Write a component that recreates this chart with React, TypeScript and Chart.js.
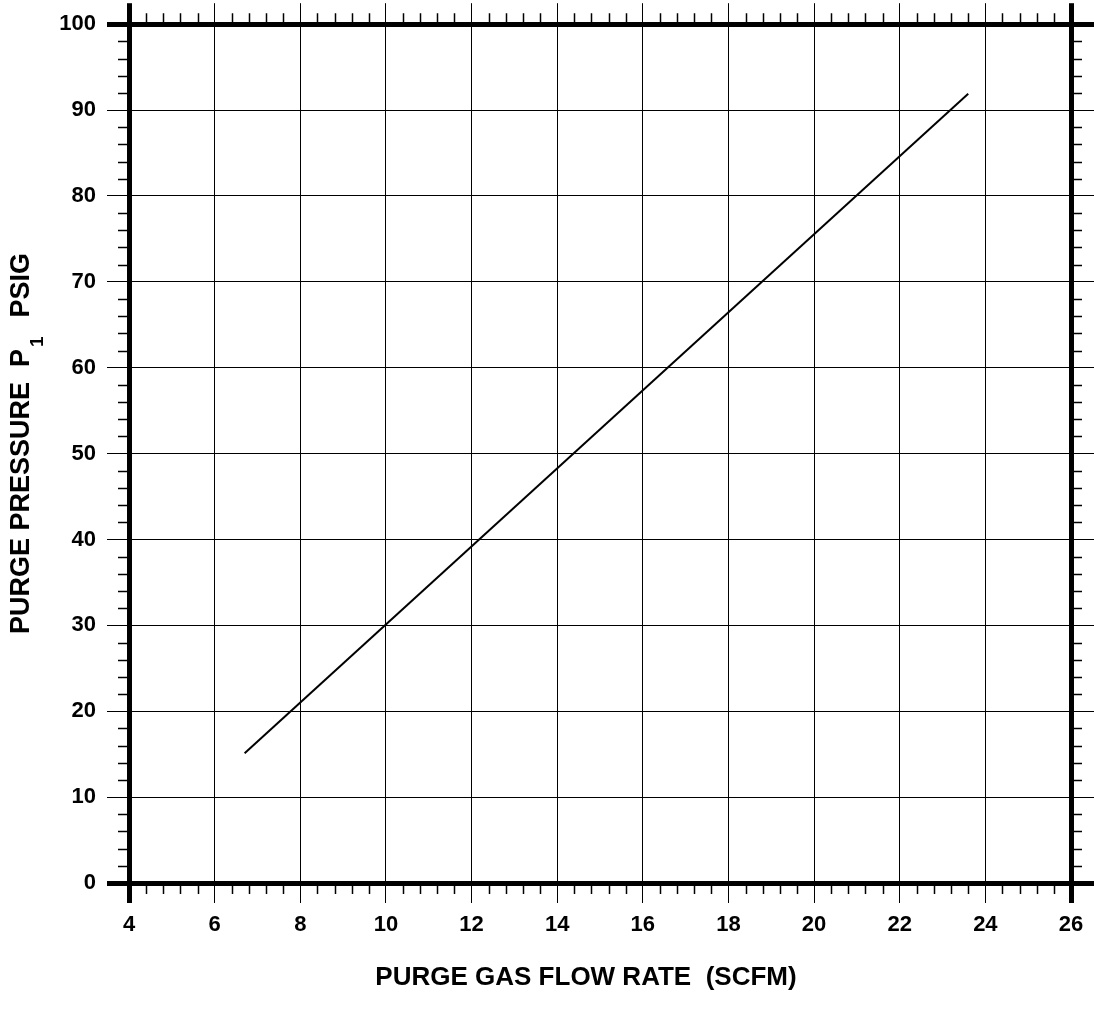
import React, { useEffect, useRef } from "react";
import { Chart, registerables } from "chart.js";

Chart.register(...registerables);

// ---- data ----
const flowRate = [6.7, 23.6]; // SCFM
const pressure = [15.1, 91.9]; // PSIG

const xMin = 4;
const xMax = 26;
const xStep = 2;
const xMinorStep = 0.4;

const yMin = 0;
const yMax = 100;
const yStep = 10;
const yMinorStep = 2;

const xTitle = "PURGE GAS FLOW RATE  (SCFM)";
const yTitleMain = "PURGE PRESSURE  P";
const yTitleSub = "1";
const yTitleEnd = "  PSIG";

const FONT = "'Liberation Sans', Arial, Helvetica, sans-serif";
const W = 1094;
const H = 1017;

const edgeWidth = (min: number, max: number) => (ctx: any) => {
  const v = ctx.tick ? ctx.tick.value : NaN;
  return v === min || v === max ? 5 : 1;
};

const framePlugin = {
  id: "frame",
  afterDatasetsDraw(chart: any) {
    const { ctx, chartArea } = chart;
    const xs = chart.scales.x;
    const ys = chart.scales.y;
    ctx.save();
    ctx.strokeStyle = "#000";
    ctx.lineWidth = 1.5;
    ctx.beginPath();
    const nx = Math.round((xMax - xMin) / xMinorStep);
    for (let i = 0; i <= nx; i++) {
      const v = xMin + i * xMinorStep;
      if (i % Math.round(xStep / xMinorStep) === 0) continue;
      const px = Math.round(xs.getPixelForValue(v)) + 0.5;
      ctx.moveTo(px, chartArea.bottom);
      ctx.lineTo(px, chartArea.bottom + 11);
      ctx.moveTo(px, chartArea.top);
      ctx.lineTo(px, chartArea.top - 11);
    }
    const ny = Math.round((yMax - yMin) / yMinorStep);
    for (let i = 0; i <= ny; i++) {
      const v = yMin + i * yMinorStep;
      if (i % Math.round(yStep / yMinorStep) === 0) continue;
      const py = Math.round(ys.getPixelForValue(v)) + 0.5;
      ctx.moveTo(chartArea.left, py);
      ctx.lineTo(chartArea.left - 11, py);
      ctx.moveTo(chartArea.right, py);
      ctx.lineTo(chartArea.right + 11, py);
    }
    ctx.stroke();

    ctx.fillStyle = "#000";
    ctx.font = `bold 26px ${FONT}`;
    ctx.textAlign = "center";
    ctx.textBaseline = "alphabetic";
    ctx.fillText(xTitle, 586, 985);

    const mainFont = `bold 27px ${FONT}`;
    const subFont = `bold 19px ${FONT}`;
    ctx.font = mainFont;
    const w1 = ctx.measureText(yTitleMain).width;
    const w3 = ctx.measureText(yTitleEnd).width;
    ctx.font = subFont;
    const w2 = ctx.measureText(yTitleSub).width;
    const gapA = 2;
    const gapB = 4;
    const total = w1 + gapA + w2 + gapB + w3;
    ctx.translate(29, 443.5);
    ctx.rotate(-Math.PI / 2);
    ctx.textAlign = "left";
    let cx = -total / 2;
    ctx.font = mainFont;
    ctx.fillText(yTitleMain, cx, 0);
    cx += w1 + gapA;
    ctx.font = subFont;
    ctx.fillText(yTitleSub, cx, 14);
    cx += w2 + gapB;
    ctx.font = mainFont;
    ctx.fillText(yTitleEnd, cx, 0);
    ctx.restore();
  },
};

export default function App() {
  const ref = useRef<HTMLCanvasElement | null>(null);
  useEffect(() => {
    document.body.style.margin = "0";
    const canvas = ref.current!;
    const tickFont = { family: FONT, size: 22, weight: "bold" as const };
    const chart = new Chart(canvas, {
      type: "scatter",
      data: {
        datasets: [
          {
            data: flowRate.map((x, i) => ({ x, y: pressure[i] })),
            showLine: true,
            borderColor: "#000",
            borderWidth: 2,
            pointRadius: 0,
            fill: false,
          },
        ],
      },
      options: {
        animation: false,
        responsive: false,
        devicePixelRatio: 1,
        layout: { padding: 0 },
        plugins: { legend: { display: false }, tooltip: { enabled: false } },
        scales: {
          x: {
            type: "linear",
            position: "bottom",
            min: xMin,
            max: xMax,
            ticks: { stepSize: xStep, color: "#000", font: tickFont, padding: 9 },
            grid: { color: "#000", lineWidth: edgeWidth(xMin, xMax), tickLength: 20 },
            border: { display: false },
            afterFit: (s: any) => { s.height = H - 883; },
          },
          x2: {
            type: "linear",
            position: "top",
            min: xMin,
            max: xMax,
            ticks: { stepSize: xStep, display: false },
            grid: { color: "#000", lineWidth: edgeWidth(xMin, xMax), tickLength: 21, drawOnChartArea: false },
            border: { display: false },
            afterFit: (s: any) => { s.height = 24; },
          },
          y: {
            type: "linear",
            position: "left",
            min: yMin,
            max: yMax,
            ticks: { stepSize: yStep, color: "#000", font: tickFont, padding: 11 },
            grid: { color: "#000", lineWidth: edgeWidth(yMin, yMax), tickLength: 22 },
            border: { display: false },
            afterFit: (s: any) => { s.width = 129; },
          },
          y2: {
            type: "linear",
            position: "right",
            min: yMin,
            max: yMax,
            ticks: { stepSize: yStep, display: false },
            grid: { color: "#000", lineWidth: edgeWidth(yMin, yMax), tickLength: 23, drawOnChartArea: false },
            border: { display: false },
            afterFit: (s: any) => { s.width = W - 1071; },
          },
        },
      },
      plugins: [framePlugin],
    } as any);
    return () => chart.destroy();
  }, []);
  return (
    <div style={{ position: "absolute", left: 0, top: 0, width: W, height: H, background: "#fff" }}>
      <canvas ref={ref} width={W} height={H} style={{ width: W, height: H, display: "block" }} />
    </div>
  );
}
